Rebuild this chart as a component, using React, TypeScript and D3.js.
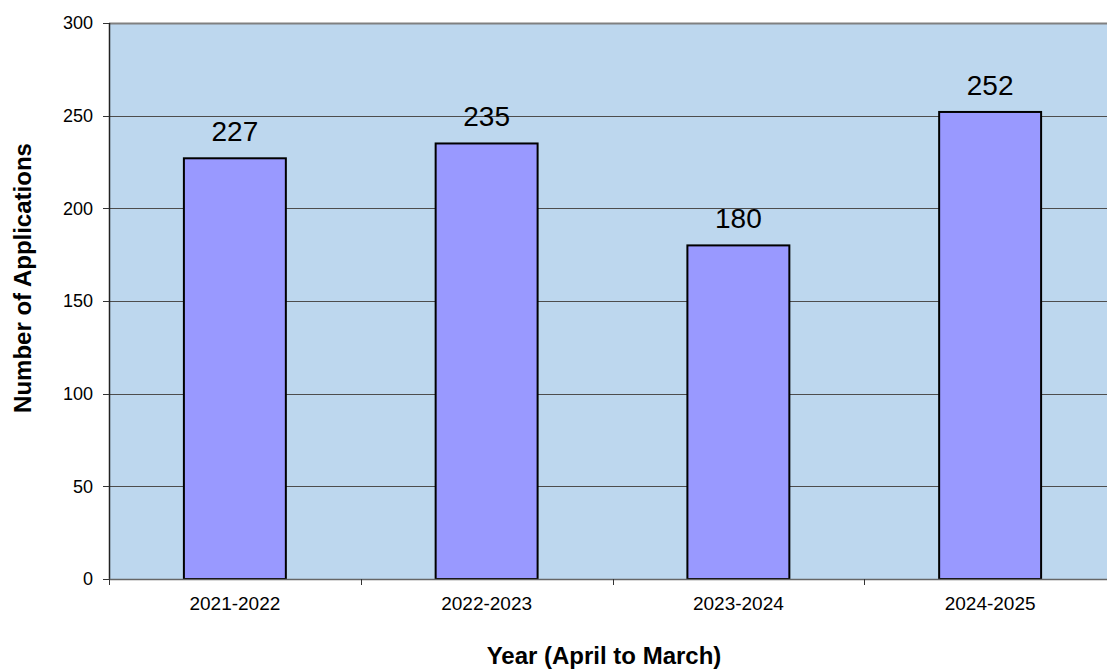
import { useEffect, useRef } from "react";
import * as d3 from "d3";

const years = ["2021-2022", "2022-2023", "2023-2024", "2024-2025"];
const applications = [227, 235, 180, 252];
const yTicks = [0, 50, 100, 150, 200, 250, 300];

const W = 1107;
const H = 670;

export default function App() {
  const svgRef = useRef<SVGSVGElement>(null);

  useEffect(() => {
    if (!svgRef.current) return;
    const svg = d3.select(svgRef.current);
    svg.selectAll("*").remove();

    // plot area runs slightly past the right edge of the picture
    const margin = { top: 23, right: -9, bottom: 91, left: 109 };
    const x0 = margin.left;
    const x1 = W - margin.right;
    const y0 = margin.top;
    const y1 = H - margin.bottom;

    const x = d3.scaleBand<string>().domain(years).range([x0, x1]).paddingInner(0).paddingOuter(0);
    const y = d3.scaleLinear().domain([0, 300]).range([y1, y0]);
    const barW = x.bandwidth() * 0.405;

    const font = "'Liberation Sans', Arial, sans-serif";

    // plot background
    svg.append("rect")
      .attr("x", x0).attr("y", y0)
      .attr("width", x1 - x0).attr("height", y1 - y0)
      .attr("fill", "#bdd7ee");

    // gridlines
    svg.append("g")
      .selectAll("line")
      .data(yTicks.filter((t) => t > 0))
      .join("line")
      .attr("x1", x0).attr("x2", x1)
      .attr("y1", (d) => Math.round(y(d)) + 0.5)
      .attr("y2", (d) => Math.round(y(d)) + 0.5)
      .attr("stroke", (d) => (d === 300 ? "#808080" : "#4d4d4d"))
      .attr("stroke-width", (d) => (d === 300 ? 2 : 1));

    // bars
    svg.append("g")
      .selectAll("rect")
      .data(applications)
      .join("rect")
      .attr("x", (_, i) => x(years[i])! + x.bandwidth() / 2 - barW / 2)
      .attr("y", (d) => y(d))
      .attr("width", barW)
      .attr("height", (d) => y1 - y(d))
      .attr("fill", "#9999ff")
      .attr("stroke", "#000")
      .attr("stroke-width", 2);

    // value labels
    svg.append("g")
      .selectAll("text")
      .data(applications)
      .join("text")
      .attr("x", (_, i) => x(years[i])! + x.bandwidth() / 2)
      .attr("y", (d) => y(d) - 17)
      .attr("text-anchor", "middle")
      .attr("font-family", font)
      .attr("font-size", 28)
      .attr("fill", "#000")
      .text((d) => d);

    // y axis
    const yAxis = svg.append("g");
    yAxis.append("line")
      .attr("x1", x0 + 0.5).attr("x2", x0 + 0.5)
      .attr("y1", y0).attr("y2", y1)
      .attr("stroke", "#222").attr("stroke-width", 1.5);
    yAxis.selectAll("line.tick")
      .data(yTicks)
      .join("line")
      .attr("class", "tick")
      .attr("x1", x0 - 6).attr("x2", x0)
      .attr("y1", (d) => Math.round(y(d)) + 0.5)
      .attr("y2", (d) => Math.round(y(d)) + 0.5)
      .attr("stroke", "#333");
    yAxis.selectAll("text")
      .data(yTicks)
      .join("text")
      .attr("x", x0 - 16)
      .attr("y", (d) => y(d))
      .attr("dy", "0.35em")
      .attr("text-anchor", "end")
      .attr("font-family", font)
      .attr("font-size", 18)
      .text((d) => d);

    // x axis
    const xAxis = svg.append("g");
    xAxis.append("line")
      .attr("x1", x0).attr("x2", x1)
      .attr("y1", y1 + 0.5).attr("y2", y1 + 0.5)
      .attr("stroke", "#666").attr("stroke-width", 1.5);
    const bounds = years.map((yr) => x(yr)!).concat([x1]);
    xAxis.selectAll("line.tick")
      .data(bounds)
      .join("line")
      .attr("class", "tick")
      .attr("x1", (d) => Math.round(d) + 0.5)
      .attr("x2", (d) => Math.round(d) + 0.5)
      .attr("y1", y1).attr("y2", y1 + 6)
      .attr("stroke", "#333");
    xAxis.selectAll("text")
      .data(years)
      .join("text")
      .attr("x", (d) => x(d)! + x.bandwidth() / 2)
      .attr("y", y1 + 31)
      .attr("text-anchor", "middle")
      .attr("font-family", font)
      .attr("font-size", 19)
      .text((d) => d);

    // axis titles
    svg.append("text")
      .attr("x", 604)
      .attr("y", 664)
      .attr("text-anchor", "middle")
      .attr("font-family", font)
      .attr("font-size", 24)
      .attr("font-weight", "bold")
      .text("Year (April to March)");

    svg.append("text")
      .attr("transform", `translate(31, 278) rotate(-90)`)
      .attr("text-anchor", "middle")
      .attr("font-family", font)
      .attr("font-size", 24)
      .attr("font-weight", "bold")
      .text("Number of Applications");
  }, []);

  return (
    <svg
      ref={svgRef}
      width={W}
      height={H}
      style={{ position: "absolute", left: 0, top: 0, background: "#fff" }}
    />
  );
}
